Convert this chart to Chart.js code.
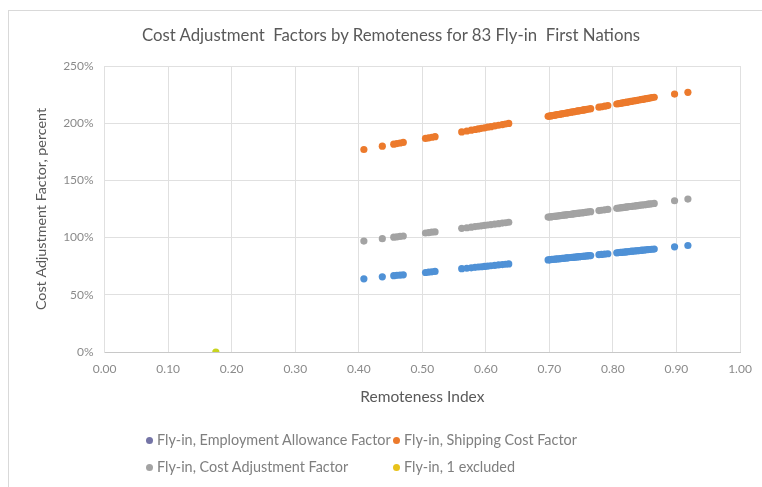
<!DOCTYPE html>
<html>
<head>
<meta charset="utf-8">
<script src="https://cdn.jsdelivr.net/npm/chart.js@4.4.1/dist/chart.umd.min.js"></script>
<style>
  html, body { margin: 0; padding: 0; background: #ffffff; }
  #wrap { position: relative; width: 762px; height: 487px; overflow: hidden; background: #fff; }
  #frame { position: absolute; left: 8px; top: 10px; width: 800px; height: 520px; border-top: 1px solid #d9d9d9; border-left: 1px solid #d9d9d9; }
  #c { position: absolute; left: 0; top: 0; }
  #title { position: absolute; left: 91px; width: 600px; top: 24px; text-align: center; font-family: "Lato", "Open Sans", sans-serif; font-size: 16.8px; line-height: 22px; color: #595959; white-space: pre; }
  #legend { position: absolute; left: 146px; top: 431px; width: 560px; font-family: "Lato", "Open Sans", sans-serif; font-size: 14.4px; line-height: 18px; color: #7f7f7f; }
  .li { position: absolute; white-space: nowrap; }
  .dot { display: inline-block; width: 7px; height: 7px; border-radius: 50%; margin-right: 4px; vertical-align: 1px; }
</style>
</head>
<body>
<div id="wrap">
  <div id="frame"></div>
  <canvas id="c" width="762" height="487"></canvas>
  <div id="title"></div>
  <div id="legend"></div>
</div>
<script>
// Remoteness index of each fly-in First Nation
const remoteness = [
  0.408, 0.437,
  0.455, 0.460, 0.465, 0.470,
  0.505, 0.510, 0.515, 0.520,
  0.562, 0.570, 0.577, 0.583, 0.588, 0.593, 0.598, 0.603, 0.608, 0.614, 0.620, 0.626, 0.631, 0.636,
  0.698, 0.700, 0.702, 0.704, 0.707, 0.709, 0.711, 0.713, 0.716, 0.718, 0.720, 0.722, 0.725, 0.727, 0.729,
  0.731, 0.734, 0.736, 0.738, 0.740, 0.743, 0.745, 0.747, 0.749, 0.752, 0.754, 0.756, 0.759, 0.762, 0.765,
  0.778, 0.782, 0.787, 0.792,
  0.806, 0.809, 0.812, 0.814, 0.817, 0.820, 0.822, 0.825, 0.828, 0.830, 0.833, 0.836, 0.838,
  0.841, 0.844, 0.846, 0.849, 0.852, 0.855, 0.858, 0.861, 0.865,
  0.897, 0.918
];
// Employment allowance factor, percent
const employmentFactor = [
  64.0, 65.7,
  66.7, 67.0, 67.2, 67.5,
  69.5, 69.8, 70.1, 70.4,
  72.8, 73.2, 73.6, 74.0, 74.3, 74.5, 74.8, 75.1, 75.4, 75.7, 76.1, 76.4, 76.7, 77.0,
  80.5, 80.6, 80.8, 80.9, 81.0, 81.2, 81.3, 81.4, 81.5, 81.7, 81.8, 81.9, 82.1, 82.2, 82.3,
  82.4, 82.6, 82.7, 82.8, 82.9, 83.1, 83.2, 83.3, 83.4, 83.6, 83.7, 83.8, 84.0, 84.2, 84.3,
  85.1, 85.3, 85.6, 85.9,
  86.7, 86.9, 87.0, 87.1, 87.3, 87.5, 87.6, 87.8, 87.9, 88.1, 88.2, 88.4, 88.5,
  88.7, 88.8, 89.0, 89.1, 89.3, 89.5, 89.6, 89.8, 90.0,
  91.9, 93.1
];
// Shipping cost factor, percent
const shippingFactor = [
  177.0, 179.9,
  181.7, 182.2, 182.7, 183.2,
  186.7, 187.2, 187.7, 188.2,
  192.4, 193.2, 193.9, 194.5, 195.0, 195.5, 196.0, 196.5, 197.0, 197.6, 198.2, 198.8, 199.3, 199.8,
  206.0, 206.2, 206.4, 206.6, 206.9, 207.1, 207.3, 207.5, 207.8, 208.0, 208.2, 208.4, 208.7, 208.9, 209.1,
  209.3, 209.6, 209.8, 210.0, 210.2, 210.5, 210.7, 210.9, 211.1, 211.4, 211.6, 211.8, 212.1, 212.4, 212.7,
  214.0, 214.4, 214.9, 215.4,
  216.8, 217.1, 217.4, 217.6, 217.9, 218.2, 218.4, 218.7, 219.0, 219.2, 219.5, 219.8, 220.0,
  220.3, 220.6, 220.8, 221.1, 221.4, 221.7, 222.0, 222.3, 222.7,
  225.5, 227.0
];
// Overall cost adjustment factor, percent
const costAdjFactor = [
  97.0, 99.1,
  100.4, 100.7, 101.1, 101.4,
  104.0, 104.3, 104.7, 105.0,
  108.1, 108.6, 109.1, 109.6, 109.9, 110.3, 110.7, 111.0, 111.4, 111.8, 112.2, 112.7, 113.0, 113.4,
  117.9, 118.0, 118.1, 118.3, 118.5, 118.6, 118.8, 118.9, 119.2, 119.3, 119.4, 119.6, 119.8, 119.9, 120.1,
  120.2, 120.4, 120.6, 120.7, 120.9, 121.1, 121.2, 121.4, 121.5, 121.7, 121.9, 122.0, 122.2, 122.5, 122.7,
  123.6, 123.9, 124.3, 124.6,
  125.6, 125.8, 126.1, 126.2, 126.4, 126.6, 126.8, 127.0, 127.2, 127.4, 127.6, 127.8, 127.9,
  128.2, 128.4, 128.5, 128.7, 128.9, 129.2, 129.4, 129.6, 129.9,
  132.2, 133.7
];
// The one excluded community
const excludedX = [0.175];
const excludedY = [0];

const chartTitle = "Cost Adjustment  Factors by Remoteness for 83 Fly-in  First Nations";
const seriesNames = [
  "Fly-in, Employment Allowance Factor",
  "Fly-in, Shipping Cost Factor",
  "Fly-in, Cost Adjustment Factor",
  "Fly-in, 1 excluded"
];
const yTicks = [0, 50, 100, 150, 200, 250];
const xTicks = [0, 0.1, 0.2, 0.3, 0.4, 0.5, 0.6, 0.7, 0.8, 0.9, 1.0];

const colors = ["#4f91d6", "#ec7a2c", "#a3a3a3", "#c8d41f"];
const legendColors = ["#7474a6", "#ec7a2c", "#a3a3a3", "#e8c21a"];

function pts(xs, ys) { return xs.map((x, i) => ({ x: x, y: ys[i] })); }

const FONT = '"Lato", "Open Sans", sans-serif';

const datasets = [
  { label: seriesNames[0], data: pts(remoteness, employmentFactor), backgroundColor: colors[0] },
  { label: seriesNames[1], data: pts(remoteness, shippingFactor), backgroundColor: colors[1] },
  { label: seriesNames[2], data: pts(remoteness, costAdjFactor), backgroundColor: colors[2] },
  { label: seriesNames[3], data: pts(excludedX, excludedY), backgroundColor: colors[3] }
].map(d => Object.assign(d, { pointRadius: 3.6, pointBorderWidth: 0, borderColor: d.backgroundColor, pointHoverRadius: 4 }));

document.getElementById("title").textContent = chartTitle;

new Chart(document.getElementById("c"), {
  type: "scatter",
  data: { datasets },
  options: {
    responsive: false,
    animation: false,
    layout: { padding: { left: 29, right: 22, top: 66, bottom: 77 } },
    plugins: {
      legend: { display: false },
      tooltip: { enabled: false },
      title: { display: false }
    },
    scales: {
      x: {
        type: "linear",
        min: 0, max: 1,
        afterBuildTicks: s => { s.ticks = xTicks.map(v => ({ value: v })); },
        ticks: { color: "#8a8a8a", font: { family: FONT, size: 12 }, padding: 10, callback: v => Number(v).toFixed(2) },
        grid: { color: "#e0e0e0", drawTicks: false },
        border: { color: "#c8c8c8" },
        title: { display: true, text: "Remoteness Index", color: "#595959", font: { family: FONT, size: 15.5 }, padding: { top: 1 } }
      },
      y: {
        min: 0, max: 250,
        afterBuildTicks: s => { s.ticks = yTicks.map(v => ({ value: v })); },
        ticks: { color: "#8a8a8a", font: { family: FONT, size: 12 }, padding: 11, callback: v => v + "%" },
        grid: { color: "#e0e0e0", drawTicks: false },
        border: { color: "#e0e0e0" },
        title: { display: true, text: "Cost Adjustment Factor, percent", color: "#595959", font: { family: FONT, size: 14.3 }, padding: { bottom: 2 } }
      }
    }
  }
});

// HTML legend in a 2x2 grid, built from the series names
const pos = [[0, 0], [247, 0], [0, 27], [247, 27]];
const leg = document.getElementById("legend");
seriesNames.forEach((n, i) => {
  const el = document.createElement("div");
  el.className = "li";
  el.style.left = pos[i][0] + "px";
  el.style.top = pos[i][1] + "px";
  el.innerHTML = '<span class="dot" style="background:' + legendColors[i] + '"></span>' + n;
  leg.appendChild(el);
});
</script>
</body>
</html>
